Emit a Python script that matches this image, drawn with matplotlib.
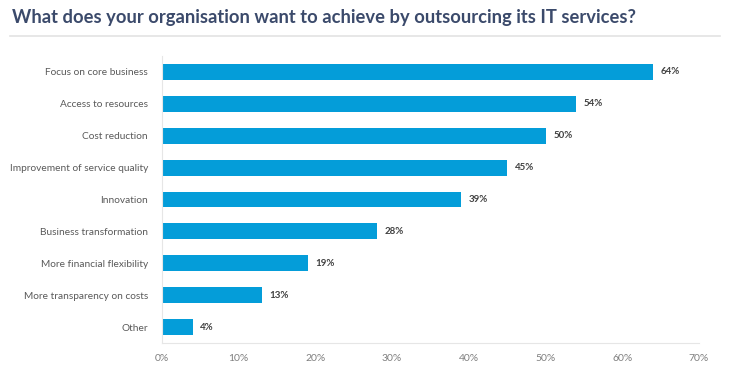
import matplotlib
matplotlib.use("Agg")
import matplotlib.pyplot as plt
from matplotlib.ticker import FuncFormatter

CATEGORIES = ["Focus on core business", "Access to resources", "Cost reduction",
              "Improvement of service quality", "Innovation", "Business transformation",
              "More financial flexibility", "More transparency on costs", "Other"]
VALUES = [64, 54, 50, 45, 39, 28, 19, 13, 4]
XTICKS = [0, 10, 20, 30, 40, 50, 60, 70]
TITLE = "What does your organisation want to achieve by outsourcing its IT services?"

BAR = "#049dd9"
plt.rcParams["font.family"] = ["Lato", "DejaVu Sans"]

fig = plt.figure(figsize=(7.39, 3.74), dpi=100)
ax = fig.add_axes([162/739, 1 - 343/374, (699 - 162)/739, (343 - 56)/374])

y = list(range(len(CATEGORIES)))
ax.barh(y, VALUES, height=0.5, color=BAR)
for yi, v in zip(y, VALUES):
    ax.text(v + 1.0, yi, f"{v}%", va="center", ha="left", fontsize=7,
            fontweight="bold", color="#404040")

ax.set_ylim(len(CATEGORIES) - 0.5, -0.5)
ax.set_yticks(y)
ax.set_yticklabels(CATEGORIES, fontsize=7.3, color="#595959")
ax.set_xlim(0, 70)
ax.set_xticks(XTICKS)
ax.xaxis.set_major_formatter(FuncFormatter(lambda v, _: f"{v:.0f}%"))
ax.tick_params(axis="x", labelsize=7.5, labelcolor="#7f7f7f", length=0, pad=8)
ax.tick_params(axis="y", length=0, pad=10)
for s in ("top", "right"):
    ax.spines[s].set_visible(False)
for s in ("left", "bottom"):
    ax.spines[s].set_color("#e6e6e6")
    ax.spines[s].set_linewidth(0.8)

fig.text(12/739, 1 - 18/374, TITLE, fontsize=13.2, fontweight="bold",
         color="#3b4a6b", va="center", ha="left")
fig.add_artist(plt.Line2D([10/739, 720/739], [1 - 36/374, 1 - 36/374],
                          color="#e3e3e3", linewidth=1.2))

fig.savefig("out.png", dpi=100)
